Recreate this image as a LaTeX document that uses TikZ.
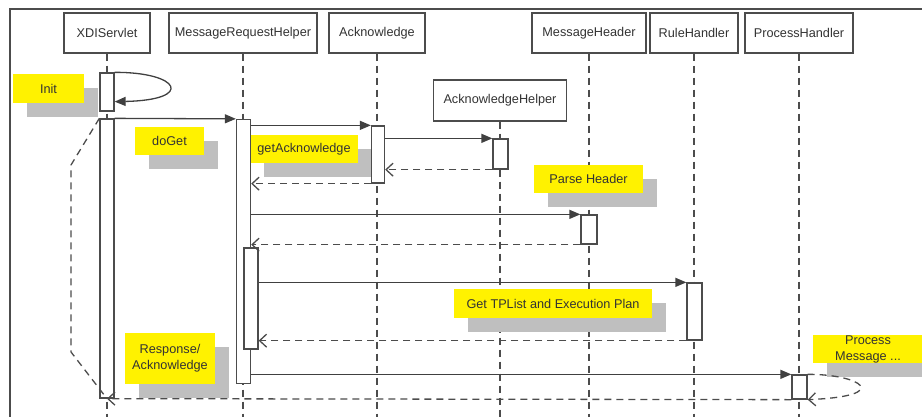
\documentclass[tikz,border=0pt]{standalone}
\usepackage{fontspec}
\setmainfont{Liberation Sans}
\usetikzlibrary{arrows.meta,shadows}

\newcommand\lblfont{\fontsize{12.7}{16}\selectfont}

\begin{document}
\begin{tikzpicture}[x=1pt,y=-1pt]
	\tikzset{obj/.style={rectangle, draw=black!70, line width=1.3pt, fill=white, text=black!80, font=\lblfont, minimum height=40pt, inner sep=0pt},
		act/.style={rectangle, draw=black!70, line width=1.3pt, fill=white, minimum width=14pt, inner sep=0pt},
		life/.style={draw=black!70, line width=1.3pt, dash pattern=on 7pt off 5pt},
		msg/.style={draw=black!75, line width=1.3pt, -{Triangle[length=11pt,width=9pt]}},
		ret/.style={draw=black!70, line width=1.3pt, dash pattern=on 7pt off 5pt, -{Straight Barb[length=7pt,width=13pt]}},
		note/.style={rectangle, fill=yellow, text=black!80, font=\lblfont, align=center, inner sep=0pt, drop shadow={shadow xshift=14pt, shadow yshift=-14pt, opacity=1, fill=black!25}}};

	\useasboundingbox (0,0) rectangle (922,416);
	\clip (0,0) rectangle (922,416);
	\coordinate (bottom) at (0,420);

	\draw[black!70, line width=1.3pt] (10,420) -- (10,9) -- (925,9);

	\node[obj, minimum width=86pt] (xdi) at (107,33) {XDIServlet};
	\node[obj, minimum width=148pt] (mrh) at (243,33) {MessageRequestHelper};
	\node[obj, minimum width=96pt] (ack) at (377,33) {Acknowledge};
	\node[obj, minimum width=114pt] (mh) at (589,33) {MessageHeader};
	\node[obj, minimum width=88pt] (rh) at (694,33) {RuleHandler};
	\node[obj, minimum width=108pt] (ph) at (799,33) {ProcessHandler};
	\node[obj, minimum width=133pt, minimum height=41pt] (ah) at (500,100.5) {AcknowledgeHelper};

	\draw[life] (xdi) -- (xdi |- bottom);
	\draw[life] (mrh) -- (mrh |- bottom);
	\draw[life] (ack) -- (ack |- bottom);
	\draw[life] (mh) -- (mh |- bottom);
	\draw[life] (rh) -- (rh |- bottom);
	\draw[life] (ph) -- (ph |- bottom);
	\draw[life] (ah) -- (ah |- bottom);

	\node[note, minimum width=71pt, minimum height=29pt] (init) at (48.5,88.5) {Init};
	\node[note, minimum width=69pt, minimum height=28pt] (doget) at (169.5,141) {doGet};
	\node[note, minimum width=108pt, minimum height=28pt] (getack) at (304,149) {getAcknowledge};
	\node[note, minimum width=109pt, minimum height=28pt] (parse) at (588.5,179) {Parse Header};
	\node[note, minimum width=198pt, minimum height=29pt] (tplist) at (553,303.5) {Get TPList and Execution Plan};
	\node[note, minimum width=90pt, minimum height=51pt] (resp) at (170,358.5) {Response/\\Acknowledge};
	\node[note, minimum width=110pt, minimum height=28pt] (proc) at (868,349) {Process\\Message ...};

	\node[act, minimum height=38pt] (xdiA) at (107,92) {};
	\node[act, minimum height=279pt] (xdiB) at (107,258.5) {};
	\node[act, minimum height=264pt] (mrhA) at (243.5,251.5) {};
	\node[act, minimum height=101pt] (mrhB) at (251,298.5) {};
	\node[act, minimum width=13pt, minimum height=57pt] (ackA) at (378,154.5) {};
	\node[act, minimum width=15pt, minimum height=30pt] (ahA) at (500.5,154) {};
	\node[act, minimum width=16pt, minimum height=29pt] (mhA) at (589,229.5) {};
	\node[act, minimum width=15pt, minimum height=57pt] (rhA) at (694.5,311.5) {};
	\node[act, minimum width=15pt, minimum height=24pt] (phA) at (799.5,387) {};

	\coordinate (bendA) at (71,165);
	\coordinate (bendB) at (71,352);

	\draw[msg] (xdiA.north east) .. controls (180,72) and (195,100) .. ([yshift=10pt]xdiA.south east);
	\draw[msg] (xdiB.north east) -- (mrhA.north west);
	\draw[msg] (mrhA.east |- ackA.north) -- (ackA.north west);
	\draw[msg] (ackA.east |- ahA.north) -- (ahA.north west);
	\draw[ret] (ahA.south west) -- (ackA.east |- ahA.south);
	\draw[ret] (ackA.south west) -- (mrhA.east |- ackA.south);
	\draw[msg] (mrhA.east |- mhA.north) -- (mhA.north west);
	\draw[ret] (mhA.south west) -- (mrhA.east |- mhA.south);
	\draw[msg] (mrhB.east |- rhA.north) -- (rhA.north west);
	\draw[ret] (rhA.south west) -- (mrhB.east |- rhA.south);
	\draw[msg] (mrhA.east |- phA.north) -- (phA.north west);
	\draw[ret] (phA.north east) .. controls (860,374) and (895,396) .. (phA.south east);
	\draw[ret] (phA.south west) -- (xdiB.south);
	\draw[life] (xdiB.north west) -- (bendA) -- (bendB) -- (xdiB.south);

\end{tikzpicture}
\end{document}
